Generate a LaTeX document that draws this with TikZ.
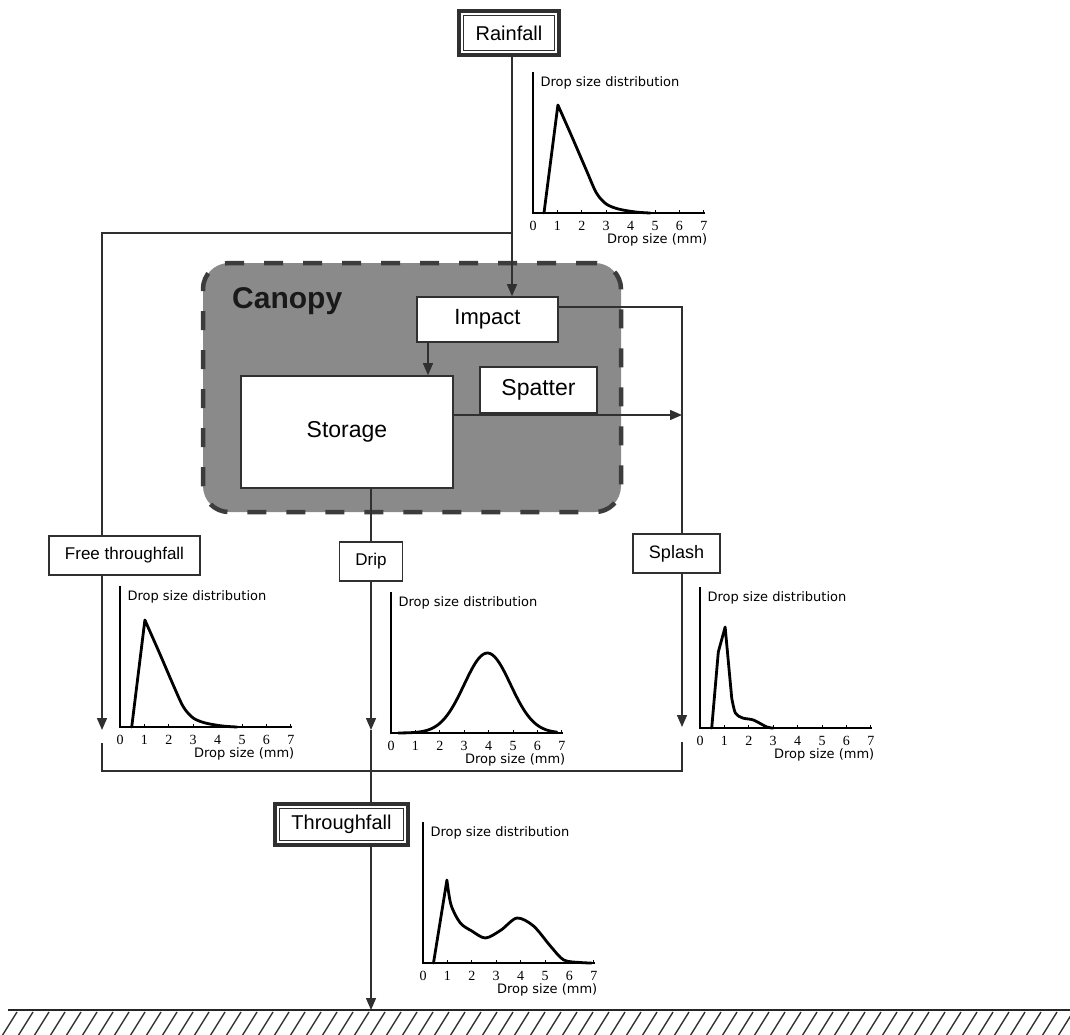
\documentclass[tikz,border=0pt]{standalone}
\usepackage{fontspec}
\setmainfont{Liberation Sans}
\newfontfamily\djv{DejaVu Sans}
\newfontfamily\lser{Liberation Serif}
\usetikzlibrary{arrows.meta}
\definecolor{canfill}{HTML}{8A8A8A}
\definecolor{candash}{HTML}{3C3C3C}
\definecolor{ln}{HTML}{303030}
\tikzset{
 conn/.style={draw=ln, line width=1.4pt},
 arr/.style={-{Triangle[length=12pt,width=10pt]}},
 pbox/.style={draw=ln, line width=1.6pt, fill=white, inner sep=0pt},
 dbox/.style={draw=ln, line width=3.5pt, fill=white, inner sep=0pt},
 dinner/.style={draw=ln, line width=1.2pt},
 axisln/.style={line width=2.6pt, black},
 curveln/.style={line width=2.8pt, black, line join=round, line cap=round},
 ticklab/.style={font=\lser\fontsize{14}{14}\selectfont, inner sep=0pt},
 glab/.style={font=\djv\fontsize{13}{13}\selectfont, inner sep=0pt},
}
\newcommand{\dsgraph}[3]{%
 \begin{scope}[shift={(#1,#2)}, x=24.4pt, y=1pt]
  \draw[axisln] (0,141) -- (0,0) -- (7.05,0);
  \foreach \i in {1,...,7} \draw[line width=1pt] (\i,0) -- (\i,3.5);
  \foreach \i in {0,...,7} \node[ticklab] at (\i,-13) {\i};
  \node[glab, anchor=east] at (7.15,-27) {Drop size (mm)};
  \node[glab, anchor=west] at (0.3,130) {Drop size distribution};
  #3
 \end{scope}}
\begin{document}
\begin{tikzpicture}[x=1pt, y=-1pt]
\useasboundingbox (0,0) rectangle (1070,1034);
\fill[white] (0,0) rectangle (1070,1034);

% canopy
\node[draw=candash, fill=canfill, line width=4.5pt, dash pattern=on 19pt off 20pt,
      rounded corners=26pt, minimum width=418pt, minimum height=249pt] (canopy) at (412,387.5) {};
\node[anchor=base west, font=\bfseries\fontsize{30}{30}\selectfont, text=black!90, inner sep=0pt] (canlab) at (232,308) {Canopy};

% boxes
\node[dbox, minimum width=100pt, minimum height=44pt, font=\fontsize{20}{20}\selectfont] (rain) at (509,33) {Rainfall};
\draw[dinner] ([shift={(6,6)}]rain.north west) rectangle ([shift={(-6,-6)}]rain.south east);
\node[pbox, minimum width=141pt, minimum height=45pt, font=\fontsize{22}{22}\selectfont] (impact) at (487.5,319.5) {Impact};
\node[pbox, minimum width=117pt, minimum height=46pt, font=\fontsize{23}{23}\selectfont] (spatter) at (538.5,390) {Spatter};
\node[pbox, minimum width=212pt, minimum height=112pt, font=\fontsize{23}{23}\selectfont] (storage) at (347,432) {Storage};
\node[pbox, minimum width=151pt, minimum height=39pt, font=\fontsize{17}{17}\selectfont] (ftf) at (124.5,555.5) {Free throughfall};
\node[pbox, minimum width=63pt, minimum height=39pt, font=\fontsize{17}{17}\selectfont] (drip) at (371,561.5) {Drip};
\node[pbox, minimum width=87pt, minimum height=39pt, font=\fontsize{18}{18}\selectfont] (splash) at (676.5,553.5) {Splash};
\node[dbox, minimum width=133pt, minimum height=41pt, font=\fontsize{20}{20}\selectfont] (thru) at (341.5,824.5) {Throughfall};
\draw[dinner] ([shift={(6,6)}]thru.north west) rectangle ([shift={(-6,-6)}]thru.south east);

% coordinates
\coordinate (rb) at (512,233);
\coordinate (fl) at (102,233);
\coordinate (fte) at (102,730);
\coordinate (ir) at (682,307);
\coordinate (sr) at (682,415);
\coordinate (spe) at (682,727);
\coordinate (is) at (428,340);
\coordinate (de) at (371,730);
\coordinate (gnd) at (371,1010);
\coordinate (c1) at (102,743);
\coordinate (c2) at (102,771);
\coordinate (c3) at (682,771);
\coordinate (c4) at (682,742);

% connectors
\draw[conn] (rain.south -| rb) -- (rb);
\draw[conn, arr] (rb) -- (rb |- impact.north);
\draw[conn] (rb) -- (fl) -- (ftf.north -| fl);
\draw[conn, arr] (ftf.south -| fl) -- (fte);
\draw[conn] (impact.east |- ir) -- (ir) -- (ir |- splash.north);
\draw[conn, arr] (splash.south -| ir) -- (spe);
\draw[conn, arr] (storage.east |- sr) -- (sr);
\draw[conn, arr] (impact.south -| is) -- (storage.north -| is);
\draw[conn] (storage.south -| drip.north) -- (drip.north);
\draw[conn, arr] (drip.south) -- (de);
\draw[conn] (de) -- (thru.north -| de);
\draw[conn, arr] (thru.south -| gnd) -- (gnd);
\draw[conn] (c1) -- (c2) -- (c3) -- (c4);

% ground
\draw[line width=2pt, black!85] (8,1010) -- (1070,1010);
\foreach \x in {2,18,...,1074} \draw[line width=1.4pt, black!80] (\x,1036) -- (\x+15,1012);

% graphs
\dsgraph{533}{213}{\draw[curveln] (0.45,0) -- (1.02,108) -- plot[smooth] coordinates {(1.02,108) (1.6,76) (2.2,42) (2.6,20) (3.0,9) (3.5,4) (4.2,1) (4.8,0)};}
\dsgraph{120}{727}{\draw[curveln] (0.48,0) -- (1.02,107) -- plot[smooth] coordinates {(1.02,107) (1.6,75) (2.2,41) (2.6,20) (3.0,9) (3.5,4) (4.2,1) (4.8,0)};}
\dsgraph{391}{733}{\draw[curveln] plot[domain=0.3:6.8, samples=70, smooth] (\x,{80*exp(-((\x-3.95)^2)/(2*0.95*0.95))});}
\dsgraph{700}{728}{\draw[curveln] (0.48,0) -- (0.75,76) -- (1.03,101) -- (1.3,30) -- plot[smooth] coordinates {(1.3,30) (1.45,15) (1.75,10) (2.19,8) (2.74,1) (3.0,0)};}
\dsgraph{423}{963}{\draw[curveln] (0.43,0) -- (0.98,83) -- plot[smooth] coordinates {(0.98,83) (1.15,58) (1.53,40) (2.0,32) (2.56,25) (3.2,33) (3.85,45) (4.53,37) (5.22,17) (5.77,3) (6.45,0.5) (6.9,0)};}
\end{tikzpicture}
\end{document}
